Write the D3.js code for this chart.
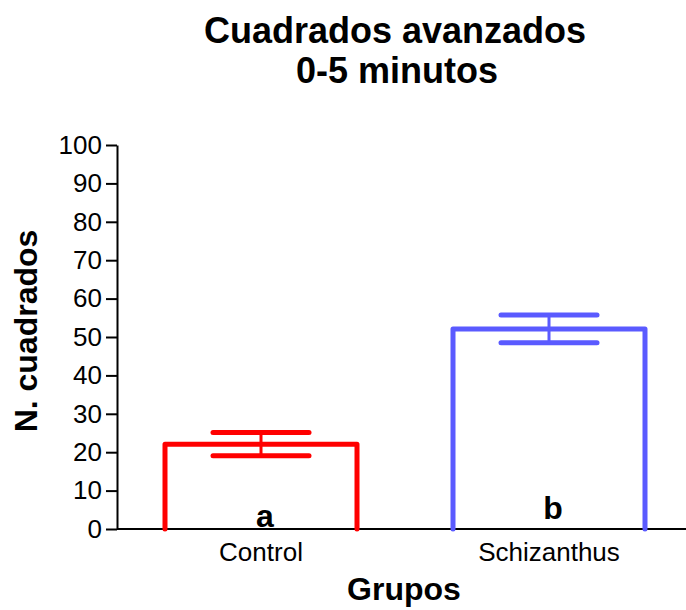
<!DOCTYPE html>
<html>
<head>
<meta charset="utf-8">
<script src="https://cdn.jsdelivr.net/npm/d3@7"></script>
<style>
  body { margin: 0; background: #fff; }
  svg { font-family: "Liberation Sans", Arial, sans-serif; }
</style>
</head>
<body>
<svg id="grafica" width="686" height="610"></svg>
<script>

//////////////////////////////////////////////
// datos
//////////////////////////////////////////////

var grupos   = ["Control", "Schizanthus"];
var medias   = [22.1, 52.1];
var errores  = [3.0, 3.6];
var letras   = ["a", "b"];
var colores  = ["#ff0000", "#5a5aff"];
var yTicks   = [0, 10, 20, 30, 40, 50, 60, 70, 80, 90, 100];

var w = 686;
var h = 610;

var svg = d3.select("#grafica")
    .attr("width", w)
    .attr("height", h);

// escalas

var xScale = d3.scaleBand()
    .domain(grupos)
    .range([117, 693])
    .paddingInner(1/3)
    .paddingOuter(1/6);

var yScale = d3.scaleLinear()
    .domain([0, 100])
    .range([529, 145]);

// eje de y

var yAxis = d3.axisLeft()
    .scale(yScale)
    .tickValues(yTicks)
    .tickSizeOuter(0)
    .tickSizeInner(11)
    .tickPadding(4);

var gy = svg.append("g")
    .attr("transform", "translate(117,0)")
    .call(yAxis);

gy.select(".domain").attr("stroke-width", 2);
gy.selectAll(".tick line").attr("stroke-width", 2);
gy.selectAll(".tick text")
    .style("font-size", "26px")
    .attr("fill", "#000");

// eje de x (solo la linea y los nombres, sin marcas)

var xAxis = d3.axisBottom()
    .scale(xScale)
    .tickSize(0)
    .tickPadding(14);

var gx = svg.append("g")
    .attr("transform", "translate(0," + yScale(0) + ")")
    .call(xAxis);

gx.select(".domain").remove();
gx.append("line")
    .attr("x1", 117)
    .attr("x2", w)
    .attr("stroke", "#000")
    .attr("stroke-width", 2);
gx.selectAll(".tick text")
    .style("font-size", "26px")
    .attr("fill", "#000");

// barras abiertas (sin borde de abajo)

var barras = grupos.map(function(g, i) {
    return {grupo: g, media: medias[i], err: errores[i], letra: letras[i], color: colores[i]};
});

svg.selectAll(".barra")
    .data(barras)
    .enter()
    .append("path")
    .attr("class", "barra")
    .attr("fill", "none")
    .attr("stroke", function(d) { return d.color; })
    .attr("stroke-width", 5)
    .attr("stroke-linecap", "round")
    .attr("stroke-linejoin", "round")
    .attr("d", function(d) {
        var x0 = xScale(d.grupo);
        var x1 = x0 + xScale.bandwidth();
        return "M" + x0 + "," + yScale(0) +
               "V" + yScale(d.media) +
               "H" + x1 +
               "V" + yScale(0);
    });

// barras de error

var errG = svg.selectAll(".error")
    .data(barras)
    .enter()
    .append("g")
    .attr("class", "error")
    .attr("stroke", function(d) { return d.color; })
    .attr("stroke-linecap", "round");

errG.append("line")
    .attr("stroke-width", 3)
    .attr("x1", function(d) { return xScale(d.grupo) + xScale.bandwidth() / 2; })
    .attr("x2", function(d) { return xScale(d.grupo) + xScale.bandwidth() / 2; })
    .attr("y1", function(d) { return yScale(d.media - d.err); })
    .attr("y2", function(d) { return yScale(d.media + d.err); });

[-1, 1].forEach(function(s) {
    errG.append("line")
        .attr("stroke-width", 5)
        .attr("x1", function(d) { return xScale(d.grupo) + xScale.bandwidth() / 4; })
        .attr("x2", function(d) { return xScale(d.grupo) + xScale.bandwidth() * 3 / 4; })
        .attr("y1", function(d) { return yScale(d.media + s * d.err); })
        .attr("y2", function(d) { return yScale(d.media + s * d.err); });
});

// letras de significancia

svg.selectAll(".letra")
    .data(barras)
    .enter()
    .append("text")
    .attr("class", "letra")
    .attr("x", function(d) { return xScale(d.grupo) + xScale.bandwidth() / 2 + 4; })
    .attr("y", function(d, i) { return i == 0 ? 527 : 519; })
    .attr("text-anchor", "middle")
    .style("font-size", "32px")
    .style("font-weight", "bold")
    .text(function(d) { return d.letra; });

// titulo

svg.append("text")
    .attr("x", 395)
    .attr("y", 43)
    .attr("text-anchor", "middle")
    .style("font-size", "36px")
    .style("font-weight", "bold")
    .text("Cuadrados avanzados");

svg.append("text")
    .attr("x", 397)
    .attr("y", 83)
    .attr("text-anchor", "middle")
    .style("font-size", "36px")
    .style("font-weight", "bold")
    .text("0-5 minutos");

// etiquetas de los ejes

svg.append("text")
    .attr("transform", "translate(37,331) rotate(-90)")
    .attr("text-anchor", "middle")
    .style("font-size", "32px")
    .style("font-weight", "bold")
    .text("N. cuadrados");

svg.append("text")
    .attr("x", 404)
    .attr("y", 600)
    .attr("text-anchor", "middle")
    .style("font-size", "32px")
    .style("font-weight", "bold")
    .text("Grupos");

</script>
</body>
</html>
